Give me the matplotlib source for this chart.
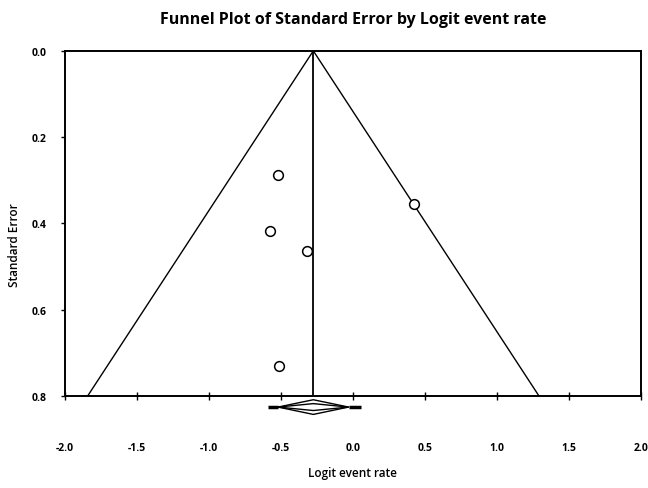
import matplotlib.pyplot as plt
import numpy as np

plt.rcParams['font.family'] = ['Open Sans', 'DejaVu Sans']

# -------- study data (logit event rate, standard error)
logit = [-0.521, -0.576, -0.319, -0.514, 0.424]
se = [0.288, 0.417, 0.464, 0.730, 0.355]

# -------- summary estimate and intervals
mean = -0.275
ci_low, ci_high = -0.52, -0.03
pi_low, pi_high = -0.59, 0.056
se_max = 0.8

fig = plt.figure(figsize=(6.48, 4.89), dpi=100)
ax = fig.add_axes([0.1003, 0.188, 0.8886, 0.706])

# funnel
s = np.array([0.0, se_max])
ax.plot(mean - 1.96 * s, s, color='black', lw=1.0)
ax.plot(mean + 1.96 * s, s, color='black', lw=1.0)
ax.plot([mean, mean], [0, se_max], color='black', lw=1.3)

ax.plot(logit, se, 'o', mfc='white', mec='black', ms=7, mew=1.1)

# summary diamond below the axis
yd = 0.8255
ax.plot([pi_low, ci_low], [yd, yd], color='black', lw=2.5, clip_on=False, solid_capstyle='butt')
ax.plot([ci_high, pi_high], [yd, yd], color='black', lw=2.5, clip_on=False, solid_capstyle='butt')
for h in [0.017, 0.008]:
    ax.plot([ci_low, mean, ci_high, mean, ci_low], [yd, yd - h, yd, yd + h, yd],
            color='black', lw=1.0, clip_on=False)

ax.set_xlim(-2.0, 2.0)
ax.set_ylim(0.8, 0.0)
ax.set_xticks(np.arange(-2.0, 2.01, 0.5))
ax.set_yticks(np.arange(0.0, 0.81, 0.2))
ax.set_xticklabels(['%.1f' % v for v in np.arange(-2.0, 2.01, 0.5)], fontsize=7.5, fontweight='bold')
ax.set_yticklabels(['%.1f' % v for v in np.arange(0.0, 0.81, 0.2)], fontsize=7.5, fontweight='bold')
ax.tick_params(axis='x', direction='inout', length=6, width=1.0, pad=30)
ax.tick_params(axis='y', direction='out', length=3, width=1.0, pad=10)
for sp in ax.spines.values():
    sp.set_linewidth(1.4)

ax.set_xlabel('Logit event rate', fontsize=8.5, fontweight='semibold')
ax.xaxis.set_label_coords(0.5, -0.203)
ax.set_ylabel('Standard Error', fontsize=8.5, fontweight='semibold')
ax.yaxis.set_label_coords(-0.076, 0.44)
ax.set_title('Funnel Plot of Standard Error by Logit event rate', fontsize=11.5, fontweight='bold', pad=20)

plt.savefig('out.png', dpi=100)
